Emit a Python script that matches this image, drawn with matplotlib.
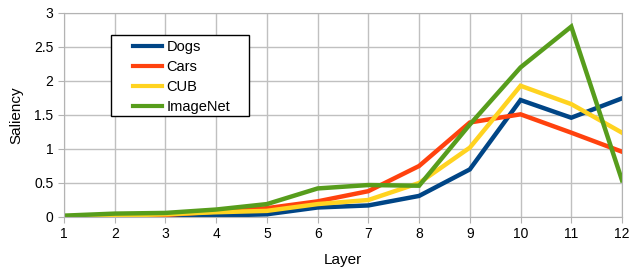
import matplotlib
matplotlib.use("Agg")
import matplotlib.pyplot as plt
from matplotlib.patches import Rectangle

layers = [1, 2, 3, 4, 5, 6, 7, 8, 9, 10, 11, 12]
dogs = [0.0, 0.01, 0.01, 0.02, 0.04, 0.14, 0.17, 0.31, 0.70, 1.72, 1.46, 1.745]
cars = [0.01, 0.02, 0.03, 0.08, 0.13, 0.23, 0.38, 0.75, 1.39, 1.51, 1.24, 0.96]
cub = [0.01, 0.02, 0.04, 0.07, 0.09, 0.19, 0.25, 0.50, 1.02, 1.93, 1.66, 1.24]
imagenet = [0.02, 0.05, 0.06, 0.11, 0.19, 0.42, 0.47, 0.46, 1.36, 2.20, 2.80, 0.54]

series = [("Dogs", dogs, "#004586"), ("Cars", cars, "#ff420e"),
          ("CUB", cub, "#ffd320"), ("ImageNet", imagenet, "#579d1c")]

plt.rcParams["font.family"] = ["Liberation Sans", "DejaVu Sans"]
plt.rcParams["font.size"] = 10

fig = plt.figure(figsize=(6.29, 2.74), dpi=100)
ax = fig.add_axes([64 / 629, 57 / 274, 558 / 629, 204 / 274])

for name, vals, col in series:
    ax.plot(layers, vals, color=col, linewidth=3.2, label=name,
            solid_joinstyle="miter")

ax.set_xlim(1, 12)
ax.set_ylim(0, 3)
ax.set_xticks(layers)
ax.set_yticks([0, 0.5, 1, 1.5, 2, 2.5, 3])
ax.set_yticklabels(["0", "0.5", "1", "1.5", "2", "2.5", "3"])
ax.grid(True, color="#c0c0c0", linewidth=1)
ax.set_axisbelow(True)
for s in ax.spines.values():
    s.set_color("#b3b3b3")
ax.tick_params(colors="#b3b3b3", labelcolor="black", length=4, labelsize=10)
ax.set_xlabel("Layer", fontsize=11, labelpad=8)
ax.set_ylabel("Saliency", fontsize=11, labelpad=8)

# legend box drawn separately so it can be wider than the entries
box = Rectangle((111 / 629, 1 - 116 / 274), 138 / 629, 81 / 274,
                transform=fig.transFigure, facecolor="white",
                edgecolor="black", linewidth=1, zorder=5, clip_on=False)
ax.add_patch(box)
leg = ax.legend(loc="upper left", frameon=False,
                handlelength=2.0, borderpad=0, labelspacing=0.42,
                handletextpad=0.3, borderaxespad=0, fontsize=10.5)
leg.set_bbox_to_anchor((133 / 629, 1 - 40 / 274), transform=fig.transFigure)
leg.set_zorder(6)
for h in leg.get_lines():
    h.set_linewidth(3.0)

fig.savefig("out.png", dpi=100)
